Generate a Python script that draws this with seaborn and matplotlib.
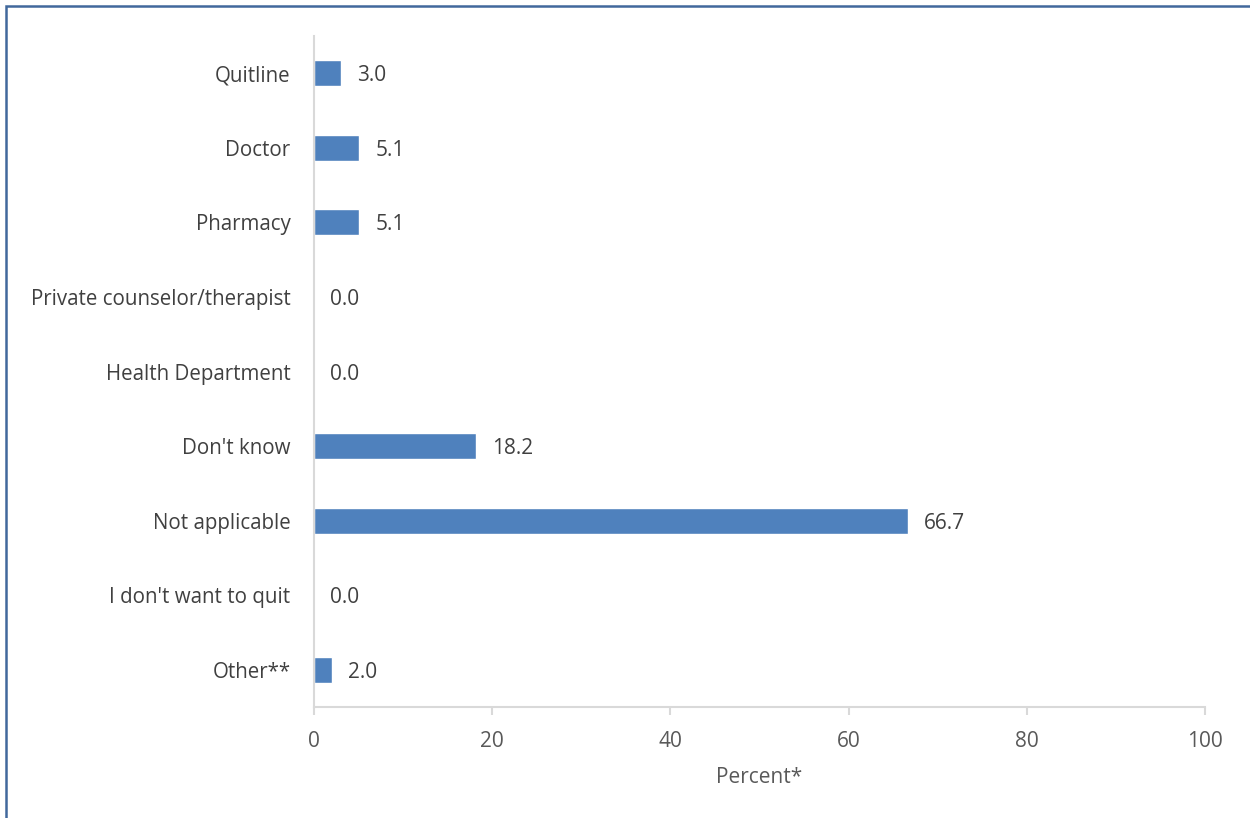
import matplotlib
matplotlib.use("Agg")
import matplotlib.pyplot as plt
import seaborn as sns
import pandas as pd
from matplotlib.patches import Rectangle

categories = ["Quitline", "Doctor", "Pharmacy", "Private counselor/therapist",
              "Health Department", "Don't know", "Not applicable",
              "I don't want to quit", "Other**"]
values = [3.0, 5.1, 5.1, 0.0, 0.0, 18.2, 66.7, 0.0, 2.0]
xticks = [0, 20, 40, 60, 80, 100]

df = pd.DataFrame({"cat": categories, "val": values})

sns.set_theme(style="white")
plt.rcParams['font.family'] = ['Open Sans', 'DejaVu Sans']

fig = plt.figure(figsize=(12.5, 8.18), dpi=100)
ax = fig.add_axes([314/1250, 1-707/818, (1205-314)/1250, (707-36)/818])

sns.barplot(data=df, x="val", y="cat", orient="h", color="#4F81BD",
            saturation=1, width=0.35, ax=ax)

ax.set_xlim(0, 100)
ax.set_xticks(xticks)
ax.set_xticklabels([str(t) for t in xticks])
ax.set_ylim(len(categories)-0.5, -0.5)

for i, v in enumerate(values):
    ax.annotate(f"{v:.1f}", xy=(v, i), xytext=(11.5, 0), textcoords="offset points",
                ha="left", va="center_baseline", fontsize=15, color="#404040")

for s in ["top", "right"]:
    ax.spines[s].set_visible(False)
for s in ["left", "bottom"]:
    ax.spines[s].set_color("#D9D9D9")
    ax.spines[s].set_linewidth(1.5)

ax.tick_params(axis="x", which="both", bottom=True, length=6, width=1.5,
               color="#D9D9D9", labelcolor="#595959", labelsize=15, pad=11, direction="out")
ax.tick_params(axis="y", left=False, length=0, labelcolor="#404040", labelsize=14.8, pad=17)
ax.set_ylabel("")
ax.set_xlabel("Percent*", fontsize=15, color="#595959", labelpad=11)

fig.patches.append(Rectangle((6/1250, -0.1), 1.2, 1.1 - 6/818,
                             transform=fig.transFigure, fill=False,
                             edgecolor="#41689C", linewidth=1.8))

fig.savefig("out.png", dpi=100)
